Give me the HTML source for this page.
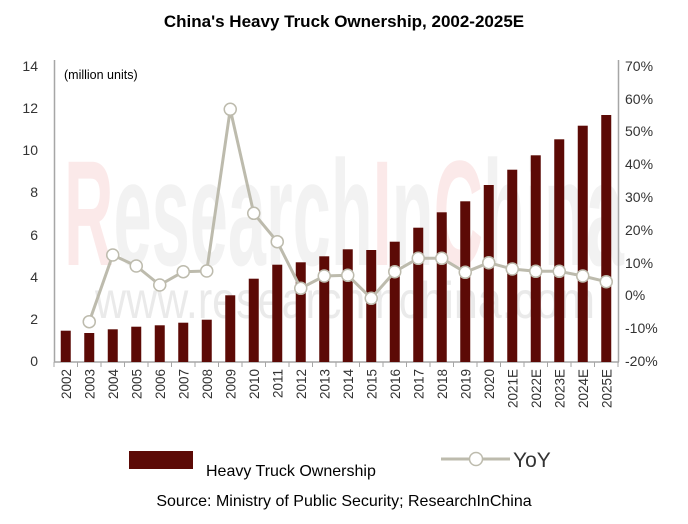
<!DOCTYPE html>
<html><head><meta charset="utf-8"><style>
html,body{margin:0;padding:0;background:#fff;}
svg{display:block;font-family:"Liberation Sans",sans-serif;}
</style></head><body>
<svg width="688" height="524" viewBox="0 0 688 524" xmlns="http://www.w3.org/2000/svg">
<text x="344" y="27" text-anchor="middle" font-size="17" font-weight="bold" fill="#000">China's Heavy Truck Ownership, 2002-2025E</text>
<g font-size="150" font-weight="bold" opacity="0.1">
<text x="64" y="265" textLength="560" lengthAdjust="spacingAndGlyphs" fill="#888"><tspan fill="#e03030">R</tspan>esearch<tspan fill="#e03030">I</tspan>n<tspan fill="#e03030">C</tspan>hina</text>
</g>
<text x="95" y="318" font-size="52" fill="#bbb" opacity="0.3" textLength="500" lengthAdjust="spacingAndGlyphs">www.researchinchina.com</text>
<line x1="54.5" y1="60" x2="54.5" y2="362" stroke="#a6a6a6" stroke-width="1.5"/>
<line x1="618.5" y1="60" x2="618.5" y2="362" stroke="#a6a6a6" stroke-width="1.5"/>
<line x1="54" y1="362" x2="619" y2="362" stroke="#a6a6a6" stroke-width="1.5"/>
<path stroke="#a6a6a6" stroke-width="1" d="M54,362v5M77.5,362v5M101,362v5M124.5,362v5M148,362v5M171.5,362v5M195,362v5M218.5,362v5M242,362v5M265.5,362v5M289,362v5M312.5,362v5M336,362v5M359.5,362v5M383,362v5M406.5,362v5M430,362v5M453.5,362v5M477,362v5M500.5,362v5M524,362v5M547.5,362v5M571,362v5M594.5,362v5M618,362v5"/>
<g font-size="14" fill="#333" text-anchor="end">
<text x="38" y="71">14</text><text x="38" y="113">12</text><text x="38" y="155">10</text><text x="38" y="197">8</text><text x="38" y="240">6</text><text x="38" y="282">4</text><text x="38" y="324">2</text><text x="38" y="366">0</text>
</g>
<g font-size="14" fill="#333">
<text x="625" y="71">70%</text><text x="625" y="104">60%</text><text x="625" y="136">50%</text><text x="625" y="169">40%</text><text x="625" y="202">30%</text><text x="625" y="235">20%</text><text x="625" y="268">10%</text><text x="625" y="300">0%</text><text x="625" y="333">-10%</text><text x="625" y="366">-20%</text>
</g>
<text x="64" y="79" font-size="12.5" fill="#000">(million units)</text>
<g fill="#5c0a06">
<rect x="60.75" y="330.7" width="10" height="31.3"/>
<rect x="84.25" y="333" width="10" height="29"/>
<rect x="107.75" y="329.3" width="10" height="32.7"/>
<rect x="131.25" y="326.7" width="10" height="35.3"/>
<rect x="154.75" y="325.3" width="10" height="36.7"/>
<rect x="178.25" y="322.7" width="10" height="39.3"/>
<rect x="201.75" y="319.7" width="10" height="42.3"/>
<rect x="225.25" y="295.3" width="10" height="66.7"/>
<rect x="248.75" y="278.7" width="10" height="83.3"/>
<rect x="272.25" y="264.7" width="10" height="97.3"/>
<rect x="295.75" y="262.3" width="10" height="99.7"/>
<rect x="319.25" y="256.3" width="10" height="105.7"/>
<rect x="342.75" y="249.3" width="10" height="112.7"/>
<rect x="366.25" y="250" width="10" height="112"/>
<rect x="389.75" y="241.7" width="10" height="120.3"/>
<rect x="413.25" y="227.7" width="10" height="134.3"/>
<rect x="436.75" y="212.3" width="10" height="149.7"/>
<rect x="460.25" y="201.3" width="10" height="160.7"/>
<rect x="483.75" y="185" width="10" height="177"/>
<rect x="507.25" y="169.7" width="10" height="192.3"/>
<rect x="530.75" y="155.3" width="10" height="206.7"/>
<rect x="554.25" y="139.3" width="10" height="222.7"/>
<rect x="577.75" y="125.7" width="10" height="236.3"/>
<rect x="601.25" y="115" width="10" height="247"/>
</g>
<g font-size="13.5" fill="#333" text-anchor="end">
<text transform="translate(70.75,369) rotate(-90)">2002</text>
<text transform="translate(94.25,369) rotate(-90)">2003</text>
<text transform="translate(117.75,369) rotate(-90)">2004</text>
<text transform="translate(141.25,369) rotate(-90)">2005</text>
<text transform="translate(164.75,369) rotate(-90)">2006</text>
<text transform="translate(188.25,369) rotate(-90)">2007</text>
<text transform="translate(211.75,369) rotate(-90)">2008</text>
<text transform="translate(235.25,369) rotate(-90)">2009</text>
<text transform="translate(258.75,369) rotate(-90)">2010</text>
<text transform="translate(282.25,369) rotate(-90)">2011</text>
<text transform="translate(305.75,369) rotate(-90)">2012</text>
<text transform="translate(329.25,369) rotate(-90)">2013</text>
<text transform="translate(352.75,369) rotate(-90)">2014</text>
<text transform="translate(376.25,369) rotate(-90)">2015</text>
<text transform="translate(399.75,369) rotate(-90)">2016</text>
<text transform="translate(423.25,369) rotate(-90)">2017</text>
<text transform="translate(446.75,369) rotate(-90)">2018</text>
<text transform="translate(470.25,369) rotate(-90)">2019</text>
<text transform="translate(493.75,369) rotate(-90)">2020</text>
<text transform="translate(517.25,369) rotate(-90)">2021E</text>
<text transform="translate(540.75,369) rotate(-90)">2022E</text>
<text transform="translate(564.25,369) rotate(-90)">2023E</text>
<text transform="translate(587.75,369) rotate(-90)">2024E</text>
<text transform="translate(611.25,369) rotate(-90)">2025E</text>
</g>
<polyline fill="none" stroke="#bdbbad" stroke-width="3" stroke-linejoin="round" points="89.25,321.7 112.75,255 136.25,266 159.75,285 183.25,271.7 206.75,271 230.25,109.3 253.75,213.3 277.25,241.7 300.75,288.3 324.25,276 347.75,275.3 371.25,298.3 394.75,271.7 418.25,258.3 441.75,258.3 465.25,272.3 488.75,262.7 512.25,269 535.75,271.3 559.25,271.3 582.75,276 606.25,281.7"/>
<g fill="#fff" stroke="#bdbbad" stroke-width="1.5">
<circle cx="89.25" cy="321.7" r="6"/><circle cx="112.75" cy="255" r="6"/><circle cx="136.25" cy="266" r="6"/><circle cx="159.75" cy="285" r="6"/><circle cx="183.25" cy="271.7" r="6"/><circle cx="206.75" cy="271" r="6"/><circle cx="230.25" cy="109.3" r="6"/><circle cx="253.75" cy="213.3" r="6"/><circle cx="277.25" cy="241.7" r="6"/><circle cx="300.75" cy="288.3" r="6"/><circle cx="324.25" cy="276" r="6"/><circle cx="347.75" cy="275.3" r="6"/><circle cx="371.25" cy="298.3" r="6"/><circle cx="394.75" cy="271.7" r="6"/><circle cx="418.25" cy="258.3" r="6"/><circle cx="441.75" cy="258.3" r="6"/><circle cx="465.25" cy="272.3" r="6"/><circle cx="488.75" cy="262.7" r="6"/><circle cx="512.25" cy="269" r="6"/><circle cx="535.75" cy="271.3" r="6"/><circle cx="559.25" cy="271.3" r="6"/><circle cx="582.75" cy="276" r="6"/><circle cx="606.25" cy="281.7" r="6"/>
</g>
<rect x="129" y="451" width="64" height="18" fill="#5c0a06"/>
<text x="206" y="476" font-size="16" fill="#000">Heavy Truck Ownership</text>
<line x1="441" y1="459" x2="510" y2="459" stroke="#bdbbad" stroke-width="3"/>
<circle cx="476" cy="459" r="6.5" fill="#fff" stroke="#bdbbad" stroke-width="1.5"/>
<text x="513" y="467" font-size="21" fill="#333">YoY</text>
<text x="344" y="506" text-anchor="middle" font-size="16" fill="#000">Source: Ministry of Public Security; ResearchInChina</text>
</svg>
</body></html>
